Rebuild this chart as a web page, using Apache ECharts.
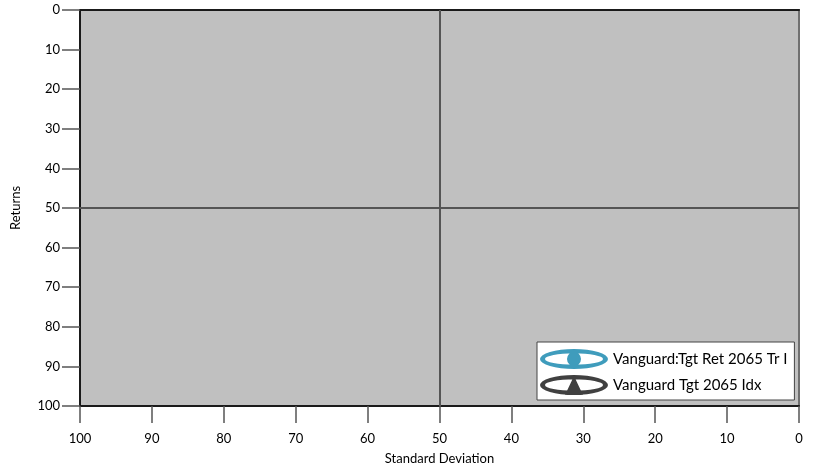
<!DOCTYPE html>
<html>
<head>
<meta charset="utf-8">
<script src="https://cdn.jsdelivr.net/npm/echarts@6/dist/echarts.min.js"></script>
<style>
html,body{margin:0;padding:0;background:#fff;}
#c{width:818px;height:471px;}
</style>
</head>
<body>
<div id="c"></div>
<script>
// ---- data ----
const seriesNames = ['Vanguard:Tgt Ret 2065 Tr I', 'Vanguard Tgt 2065 Idx'];
const fundPoints = [];   // no visible points in the reference
const indexPoints = [];  // no visible points in the reference
const xTicks = [0, 10, 20, 30, 40, 50, 60, 70, 80, 90, 100];
const yTicks = [0, 10, 20, 30, 40, 50, 60, 70, 80, 90, 100];
const crossX = 50;
const crossY = 50;

const FONT = 'Lato, "Open Sans", sans-serif';
const teal = '#3f9cbc';
const dark = '#404040';

const ringCircle = 'path://M0 10 A34 10 0 1 1 68 10 A34 10 0 1 1 0 10 Z M5 10 A29 5.8 0 1 0 63 10 A29 5.8 0 1 0 5 10 Z M27 10 A7 7 0 1 1 41 10 A7 7 0 1 1 27 10 Z';
const ringTri = 'path://M0 10 A34 10 0 1 1 68 10 A34 10 0 1 1 0 10 Z M5 10 A29 5.8 0 1 0 63 10 A29 5.8 0 1 0 5 10 Z M34 1 L43 20 L25 20 Z';

const chart = echarts.init(document.getElementById('c'), null, {renderer: 'canvas'});
chart.setOption({
  animation: false,
  textStyle: {fontFamily: FONT},
  grid: {left: 80, right: 19, top: 10, bottom: 65, show: true,
         backgroundColor: '#c0c0c0', borderColor: '#707070', borderWidth: 2},
  xAxis: [{
    type: 'value', min: xTicks[0], max: xTicks[xTicks.length-1], interval: 10, inverse: true,
    position: 'bottom',
    name: 'Standard Deviation', nameLocation: 'middle', nameGap: 46,
    nameTextStyle: {fontSize: 13, color: '#000', fontFamily: FONT},
    axisLine: {show: true, onZero: false, lineStyle: {color: '#1a1a1a', width: 2}},
    axisTick: {show: true, inside: false, length: 17, lineStyle: {color: '#555', width: 1.5}},
    axisLabel: {margin: 26, fontSize: 13, color: '#000', fontFamily: FONT},
    splitLine: {show: false}
  }, {
    type: 'value', min: 0, max: 100, inverse: true, position: 'top',
    axisLine: {show: true, onZero: false, lineStyle: {color: '#1a1a1a', width: 2}},
    axisTick: {show: false}, axisLabel: {show: false}, splitLine: {show: false}
  }],
  yAxis: {
    type: 'value', min: yTicks[0], max: yTicks[yTicks.length-1], interval: 10, inverse: true,
    position: 'left',
    name: 'Returns', nameLocation: 'middle', nameGap: 58, nameRotate: 90,
    nameTextStyle: {fontSize: 13, color: '#000', fontFamily: FONT},
    axisLine: {show: true, onZero: false, lineStyle: {color: '#1a1a1a', width: 2}},
    axisTick: {show: true, inside: false, length: 18, lineStyle: {color: '#555', width: 1.5}},
    axisLabel: {margin: 20, fontSize: 13, color: '#000', fontFamily: FONT},
    splitLine: {show: false}
  },
  legend: {
    orient: 'vertical', left: 537, top: 342,
    padding: [7, 7, 5, 3], itemGap: 6, itemWidth: 68, itemHeight: 20,
    backgroundColor: '#fff', borderColor: '#444', borderWidth: 1, borderRadius: 0,
    textStyle: {fontSize: 15, color: '#000', fontFamily: FONT},
    itemStyle: {borderWidth: 0, opacity: 1},
    data: [{name: seriesNames[0], icon: ringCircle}, {name: seriesNames[1], icon: ringTri}]
  },
  series: [{
    name: seriesNames[0], type: 'scatter', data: fundPoints, symbol: 'circle',
    itemStyle: {color: teal, opacity: 1},
    markLine: {
      silent: true, symbol: ['none', 'none'], label: {show: false},
      lineStyle: {color: '#555', width: 2, type: 'solid'},
      data: [{xAxis: crossX}, {yAxis: crossY}]
    }
  }, {
    name: seriesNames[1], type: 'scatter', data: indexPoints, symbol: 'triangle',
    itemStyle: {color: dark, opacity: 1}
  }]
});
</script>
</body>
</html>
